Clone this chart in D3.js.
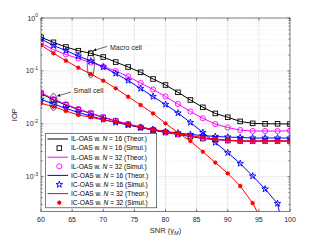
<!DOCTYPE html>
<html><head><meta charset="utf-8">
<script src="https://cdn.jsdelivr.net/npm/d3@7"></script>
<style>body{margin:0;background:#fff}svg{display:block;font-family:"Liberation Sans",Arial,sans-serif}</style>
</head><body><svg id="c" width="321" height="241"></svg>
<script>
const snr = [60,62,64,66,68,70,72,74,76,78,80,82,84,86,88,90,92,94,96,98,100];
const xTicks = [60,65,70,75,80,85,90,95,100];
const yTicks = [1e-3,1e-2,1e-1,1];
const yTickExp = ["-3","-2","-1","0"];

// Macro cell
const macroIL16 = [0.432,0.347,0.283,0.241,0.215,0.183,0.147,0.1185,0.0941,0.0703,0.0541,0.0394,0.0282,0.0205,0.0157,0.0133,0.0111,0.0102,0.0100,0.0100,0.0099];
const macroIL32 = [0.332,0.254,0.204,0.172,0.144,0.121,0.0996,0.0783,0.0591,0.0445,0.0328,0.0237,0.0171,0.0127,0.0099,0.0085,0.0076,0.0073,0.0073,0.0073,0.00737];
const macroIC16 = [0.401,0.302,0.243,0.191,0.154,0.1185,0.0893,0.0659,0.0465,0.0328,0.0232,0.0160,0.0106,0.00685,0.00443,0.00284,0.00178,0.00103,0.000585,0.000311,0.000025];
const macroIC32 = [0.309,0.215,0.156,0.115,0.0874,0.0653,0.0469,0.0325,0.0227,0.0157,0.0102,0.00679,0.00473,0.00297,0.00185,0.00116,0.000667,0.000318,0.00011,0.00002,0.000001];
// Small cell
const smallIL16 = [0.0374,0.0282,0.0227,0.0186,0.0157,0.0132,0.0113,0.0097,0.0085,0.0076,0.00685,0.00628,0.00575,0.00527,0.00505,0.00483,0.00473,0.00473,0.00473,0.00473,0.00473];
const smallIL32 = [0.0394,0.0294,0.0234,0.0190,0.0160,0.0134,0.0115,0.0099,0.0087,0.0078,0.0070,0.0064,0.0059,0.0054,0.00505,0.00483,0.00473,0.00473,0.00473,0.00473,0.00473];
const smallIC16 = [0.0290,0.0237,0.0196,0.0164,0.0140,0.0121,0.0106,0.0095,0.0085,0.0078,0.00715,0.0067,0.00628,0.00601,0.00575,0.00563,0.00551,0.00539,0.00539,0.00539,0.00539];
const smallIC32 = [0.0244,0.0211,0.0175,0.0147,0.0133,0.0118,0.0108,0.0097,0.0087,0.0078,0.00715,0.00656,0.00601,0.00551,0.00516,0.00494,0.00473,0.00473,0.00473,0.00473,0.00473];

const seriesNames = ["IL-OAS w. ", "IC-OAS w. "];
const nValues = ["16","32","16","32"];
const colors = ["#000000","#ff00ff","#0000ff","#ff0000"];
const markers = ["square","circle","star","dot"];
const macroData = [macroIL16, macroIL32, macroIC16, macroIC32];
const smallData = [smallIL16, smallIL32, smallIC16, smallIC32];

const svg = d3.select("#c");
const L = 41, R = 290, T = 18, B = 211.5;
const x = d3.scaleLinear().domain([60,100]).range([L,R]);
const y = d3.scaleLog().domain([2.2e-4,1]).range([B,T]);

svg.append("rect").attr("x",L).attr("y",T).attr("width",R-L).attr("height",B-T).attr("fill","#fff");
svg.append("defs").append("clipPath").attr("id","clip").append("rect")
  .attr("x",L).attr("y",T).attr("width",R-L).attr("height",B-T);

// grid
const g = svg.append("g");
xTicks.slice(1,-1).forEach(t=>{
  g.append("line").attr("x1",x(t)).attr("x2",x(t)).attr("y1",T).attr("y2",B)
   .attr("stroke","#e3e3e3").attr("stroke-width",0.8);
});
const minors = [];
[1e-4,1e-3,1e-2,1e-1].forEach(d=>{for(let k=2;k<=9;k++){const v=d*k; if(v>=2.2e-4 && v<1) minors.push(v);}});
minors.forEach(v=>{
  g.append("line").attr("x1",L).attr("x2",R).attr("y1",y(v)).attr("y2",y(v))
   .attr("stroke","#e6e6e6").attr("stroke-width",0.7).attr("stroke-dasharray","1,1.5");
});
yTicks.slice(0,-1).forEach(v=>{
  g.append("line").attr("x1",L).attr("x2",R).attr("y1",y(v)).attr("y2",y(v))
   .attr("stroke","#e3e3e3").attr("stroke-width",0.8);
});

// data
const plot = svg.append("g").attr("clip-path","url(#clip)");
const line = d3.line().x((d,i)=>x(snr[i])).y(d=>y(d));
function drawMarker(sel, type, color, cx, cy){
  if(type==="square") sel.append("rect").attr("x",cx-2.3).attr("y",cy-2.3).attr("width",4.6).attr("height",4.6)
      .attr("fill","none").attr("stroke",color).attr("stroke-width",0.9);
  else if(type==="circle") sel.append("circle").attr("cx",cx).attr("cy",cy).attr("r",2.6)
      .attr("fill","none").attr("stroke",color).attr("stroke-width",0.9);
  else if(type==="star") sel.append("path").attr("d",d3.symbol(d3.symbolStar,13)()).attr("transform",`translate(${cx},${cy})`)
      .attr("fill","none").attr("stroke",color).attr("stroke-width",0.9);
  else { sel.append("circle").attr("cx",cx).attr("cy",cy).attr("r",1.9).attr("fill",color);
      sel.append("path").attr("d",`M${cx-2.4},${cy}H${cx+2.4}M${cx},${cy-2.4}V${cy+2.4}M${cx-1.7},${cy-1.7}L${cx+1.7},${cy+1.7}M${cx-1.7},${cy+1.7}L${cx+1.7},${cy-1.7}`)
      .attr("stroke",color).attr("stroke-width",0.7); }
}
for(let s=0;s<4;s++){
  [macroData[s], smallData[s]].forEach(arr=>{
    plot.append("path").attr("d",line(arr)).attr("fill","none").attr("stroke",colors[s]).attr("stroke-width",1);
  });
  [macroData[s], smallData[s]].forEach(arr=>{
    arr.forEach((v,i)=>{ if(v>=2.2e-4) drawMarker(plot, markers[s], colors[s], x(snr[i]), y(v)); });
  });
}

// axes box and ticks
const ax = svg.append("g").attr("stroke","#262626").attr("stroke-width",0.6);
ax.append("rect").attr("x",L).attr("y",T).attr("width",R-L).attr("height",B-T).attr("fill","none");
xTicks.forEach(t=>{
  ax.append("line").attr("x1",x(t)).attr("x2",x(t)).attr("y1",B).attr("y2",B-2.5);
  ax.append("line").attr("x1",x(t)).attr("x2",x(t)).attr("y1",T).attr("y2",T+2.5);
});
yTicks.forEach(v=>{
  ax.append("line").attr("x1",L).attr("x2",L+2.5).attr("y1",y(v)).attr("y2",y(v));
  ax.append("line").attr("x1",R).attr("x2",R-2.5).attr("y1",y(v)).attr("y2",y(v));
});
minors.forEach(v=>{
  ax.append("line").attr("x1",L).attr("x2",L+1.5).attr("y1",y(v)).attr("y2",y(v));
  ax.append("line").attr("x1",R).attr("x2",R-1.5).attr("y1",y(v)).attr("y2",y(v));
});
xTicks.forEach(t=>{
  svg.append("text").attr("x",x(t)).attr("y",B+10.5).attr("text-anchor","middle")
    .attr("font-size",7).attr("fill","#262626").text(t);
});
yTicks.forEach((v,i)=>{
  const tx = svg.append("text").attr("x",L-3).attr("y",y(v)+2.5).attr("text-anchor","end")
    .attr("font-size",7).attr("fill","#262626");
  tx.append("tspan").text("10");
  tx.append("tspan").attr("dy",-3.2).attr("font-size",5).text(yTickExp[i]);
});
const xl = svg.append("text").attr("x",(L+R)/2).attr("y",233).attr("text-anchor","middle")
  .attr("font-size",7.5).attr("fill","#262626");
xl.append("tspan").text("SNR (γ");
xl.append("tspan").attr("dy",1.8).attr("font-size",5.5).attr("font-style","italic").text("M");
xl.append("tspan").attr("dy",-1.8).text(")");
svg.append("text").attr("transform",`translate(17,${(T+B)/2}) rotate(-90)`).attr("text-anchor","middle")
  .attr("font-size",7.5).attr("fill","#262626").text("IOP");

// annotations
svg.append("defs").append("marker").attr("id","ah").attr("viewBox","0 0 10 10").attr("refX",9).attr("refY",5)
  .attr("markerWidth",6).attr("markerHeight",5).attr("orient","auto")
  .append("path").attr("d","M0,0L10,5L0,10z").attr("fill","#000");
const an = svg.append("g");
an.append("ellipse").attr("cx",x(68)).attr("cy",64).attr("rx",3.6).attr("ry",14)
  .attr("fill","none").attr("stroke","#000").attr("stroke-width",0.6);
an.append("line").attr("x1",107).attr("y1",46.5).attr("x2",93.5).attr("y2",50.5)
  .attr("stroke","#000").attr("stroke-width",0.6).attr("marker-end","url(#ah)");
an.append("text").attr("x",110).attr("y",49.5).attr("font-size",7).attr("fill","#262626").text("Macro cell");
an.append("ellipse").attr("cx",x(62)).attr("cy",102).attr("rx",3.6).attr("ry",8.5)
  .attr("fill","none").attr("stroke","#000").attr("stroke-width",0.6);
an.append("line").attr("x1",71).attr("y1",92).attr("x2",57.5).attr("y2",96)
  .attr("stroke","#000").attr("stroke-width",0.6).attr("marker-end","url(#ah)");
an.append("text").attr("x",73.5).attr("y",93).attr("font-size",7).attr("fill","#262626").text("Small cell");

// legend
const lg = svg.append("g");
lg.append("rect").attr("x",45.7).attr("y",133.3).attr("width",111).attr("height",74.5)
  .attr("fill","#fff").attr("stroke","#262626").attr("stroke-width",0.6);
for(let s=0;s<4;s++){
  ["Theor.","Simul."].forEach((kind,j)=>{
    const row = s*2+j;
    const cy = 139 + row*9.1;
    if(j===0) lg.append("line").attr("x1",47.5).attr("x2",68).attr("y1",cy).attr("y2",cy)
      .attr("stroke",colors[s]).attr("stroke-width",1);
    else drawMarker(lg, markers[s], colors[s], 59.3, cy);
    const t = lg.append("text").attr("x",71).attr("y",cy+2.3).attr("font-size",6.6).attr("fill","#000");
    t.append("tspan").text(seriesNames[s<2?0:1]);
    t.append("tspan").attr("font-style","italic").text("N");
    t.append("tspan").text(` = ${nValues[s]} (${kind})`);
  });
}
</script></body></html>
